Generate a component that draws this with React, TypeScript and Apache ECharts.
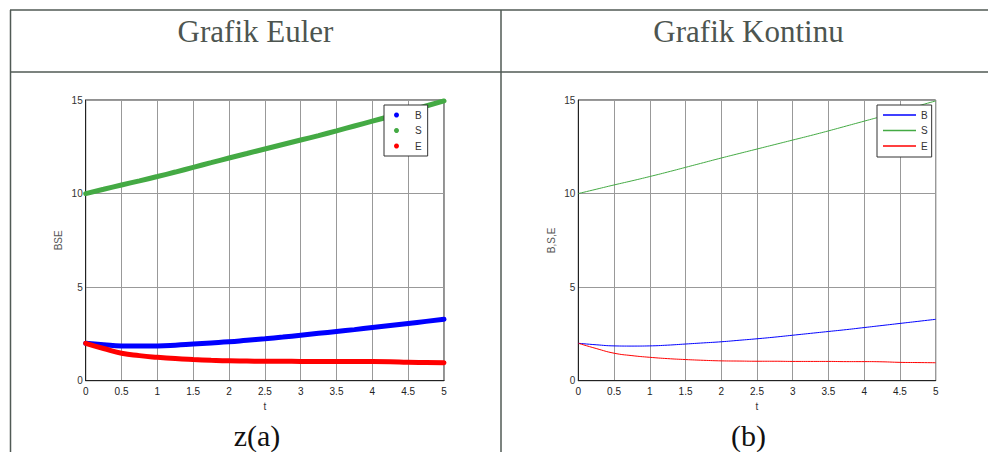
import React, { useEffect, useRef } from "react";
import * as echarts from "echarts";

const tValues = [0, 0.25, 0.5, 0.75, 1, 1.25, 1.5, 1.75, 2, 2.25, 2.5, 2.75, 3, 3.25, 3.5, 3.75, 4, 4.25, 4.5, 4.75, 5];

const eulerB = [2.0, 1.92, 1.86, 1.85, 1.86, 1.9, 1.96, 2.02, 2.08, 2.16, 2.24, 2.33, 2.43, 2.53, 2.63, 2.73, 2.84, 2.95, 3.06, 3.17, 3.28];
const eulerS = [10.0, 10.23, 10.46, 10.68, 10.91, 11.15, 11.4, 11.65, 11.9, 12.14, 12.38, 12.62, 12.86, 13.1, 13.35, 13.61, 13.87, 14.13, 14.4, 14.68, 14.95];
const eulerE = [2.0, 1.72, 1.47, 1.34, 1.25, 1.18, 1.13, 1.09, 1.06, 1.05, 1.04, 1.04, 1.03, 1.03, 1.03, 1.02, 1.02, 1.01, 0.98, 0.97, 0.96];

const kontB = [2.0, 1.92, 1.86, 1.85, 1.86, 1.9, 1.96, 2.02, 2.08, 2.16, 2.24, 2.33, 2.43, 2.53, 2.63, 2.73, 2.84, 2.95, 3.06, 3.17, 3.28];
const kontS = [10.0, 10.23, 10.46, 10.68, 10.91, 11.15, 11.4, 11.65, 11.9, 12.14, 12.38, 12.62, 12.86, 13.1, 13.35, 13.61, 13.87, 14.13, 14.4, 14.68, 14.95];
const kontE = [2.0, 1.72, 1.47, 1.34, 1.25, 1.18, 1.13, 1.09, 1.06, 1.05, 1.04, 1.04, 1.03, 1.03, 1.03, 1.02, 1.02, 1.01, 0.98, 0.97, 0.96];

const seriesNames = ["B", "S", "E"];
const headers = ["Grafik Euler", "Grafik Kontinu"];
const captions = ["z(a)", "(b)"];
const yNames = ["BSE", "B,S,E"];
const xName = "t";

const COLORS = ["#0000ff", "#44aa44", "#ff0000"];
const pair = (ys: number[]) => tValues.map((t, i) => [t, ys[i]]);

export default function App() {
  const ref = useRef<HTMLDivElement>(null);
  useEffect(() => {
    if (!ref.current) return;
    const chart = echarts.init(ref.current, undefined, { renderer: "svg" });
    const sans = "'Liberation Sans', Arial, sans-serif";
    const serif = "'Liberation Serif', 'Times New Roman', serif";
    const lineC = "#505a55";

    const mkX = (gi: number) => ({
      type: "value",
      gridIndex: gi,
      min: 0,
      max: 5,
      interval: 0.5,
      name: xName,
      nameLocation: "middle",
      nameGap: 20,
      nameTextStyle: { fontFamily: sans, fontSize: 10, color: "#333" },
      axisLine: { show: true, lineStyle: { color: "#222", width: 1 } },
      axisTick: { show: false },
      axisLabel: { fontFamily: sans, fontSize: 10, color: "#222", margin: 6 },
      splitLine: { show: true, lineStyle: { color: "#999", width: 1 } },
    });
    const mkY = (gi: number) => ({
      type: "value",
      gridIndex: gi,
      min: 0,
      max: 15,
      interval: 5,
      name: yNames[gi],
      nameLocation: "middle",
      nameGap: 22,
      nameTextStyle: { fontFamily: sans, fontSize: 10, color: "#555" },
      axisLine: { show: true, lineStyle: { color: "#222", width: 1 } },
      axisTick: { show: false },
      axisLabel: { fontFamily: sans, fontSize: 10, color: "#333", margin: 3 },
      splitLine: { show: true, lineStyle: { color: "#999", width: 1 } },
    });

    const eulerData = [eulerB, eulerS, eulerE];
    const kontData = [kontB, kontS, kontE];

    const series: any[] = [];
    seriesNames.forEach((n, i) => {
      series.push({
        type: "line",
        name: n,
        id: "euler-" + n,
        xAxisIndex: 0,
        yAxisIndex: 0,
        data: pair(eulerData[i]),
        showSymbol: false,
        symbol: "circle",
        smooth: true,
        color: COLORS[i],
        lineStyle: { width: 5, color: COLORS[i], cap: "round" },
        z: 3,
      });
    });
    seriesNames.forEach((n, i) => {
      series.push({
        type: "line",
        name: n + " ",
        id: "kont-" + n,
        xAxisIndex: 1,
        yAxisIndex: 1,
        data: pair(kontData[i]),
        showSymbol: false,
        symbol: "none",
        smooth: true,
        color: COLORS[i],
        lineStyle: { width: 1, color: COLORS[i] },
        z: 3,
      });
    });

    const legendBase = {
      orient: "vertical",
      top: 105,
      backgroundColor: "#ffffff",
      borderColor: "#333",
      borderWidth: 1,
      borderRadius: 0,
      itemGap: 3.5,
      textStyle: { fontFamily: sans, fontSize: 10, color: "#333", lineHeight: 12 },
      selectedMode: false,
    };

    const option: any = {
      animation: false,
      backgroundColor: "#ffffff",
      grid: [
        { left: 85.7, top: 100, width: 358.3, height: 280.7, show: true, borderColor: "#222", borderWidth: 1, backgroundColor: "transparent" },
        { left: 578.3, top: 100, width: 357.4, height: 280.7, show: true, borderColor: "#222", borderWidth: 1, backgroundColor: "transparent" },
      ],
      xAxis: [mkX(0), mkX(1)],
      yAxis: [mkY(0), mkY(1)],
      legend: [
        {
          ...legendBase,
          left: 384,
          padding: [4, 6, 4, 10],
          icon: "circle",
          itemWidth: 27,
          itemHeight: 5,
          data: seriesNames,
          formatter: (s: string) => s,
        },
        {
          ...legendBase,
          left: 877,
          padding: [4, 4, 5, 6],
          icon: "rect",
          itemWidth: 33,
          itemHeight: 1.5,
          data: seriesNames.map((n) => n + " "),
          formatter: (s: string) => s.trim(),
        },
      ],
      series,
      graphic: [
        // table lines
        { type: "line", shape: { x1: 10, y1: 10, x2: 988, y2: 10 }, style: { stroke: lineC, lineWidth: 1.5 }, z: 10 },
        { type: "line", shape: { x1: 10, y1: 72, x2: 988, y2: 72 }, style: { stroke: lineC, lineWidth: 1.5 }, z: 10 },
        { type: "line", shape: { x1: 10.5, y1: 10, x2: 10.5, y2: 452 }, style: { stroke: lineC, lineWidth: 1.5 }, z: 10 },
        { type: "line", shape: { x1: 501, y1: 10, x2: 501, y2: 452 }, style: { stroke: lineC, lineWidth: 1.5 }, z: 10 },
        // headers
        { type: "text", x: 255.5, y: 31, style: { text: headers[0], fontFamily: serif, fontSize: 31, fill: "#4d5550", align: "center", verticalAlign: "middle" }, z: 10 },
        { type: "text", x: 748.5, y: 31, style: { text: headers[1], fontFamily: serif, fontSize: 31, fill: "#4d5550", align: "center", verticalAlign: "middle" }, z: 10 },
        // captions
        { type: "text", x: 257, y: 435, style: { text: captions[0], fontFamily: serif, fontSize: 30, fill: "#111", align: "center", verticalAlign: "middle" }, z: 10 },
        { type: "text", x: 748.5, y: 435, style: { text: captions[1], fontFamily: serif, fontSize: 30, fill: "#111", align: "center", verticalAlign: "middle" }, z: 10 },
      ],
    };
    chart.setOption(option);
    return () => chart.dispose();
  }, []);
  return <div ref={ref} style={{ position: "absolute", left: 0, top: 0, width: 988, height: 452 }} />;
}
